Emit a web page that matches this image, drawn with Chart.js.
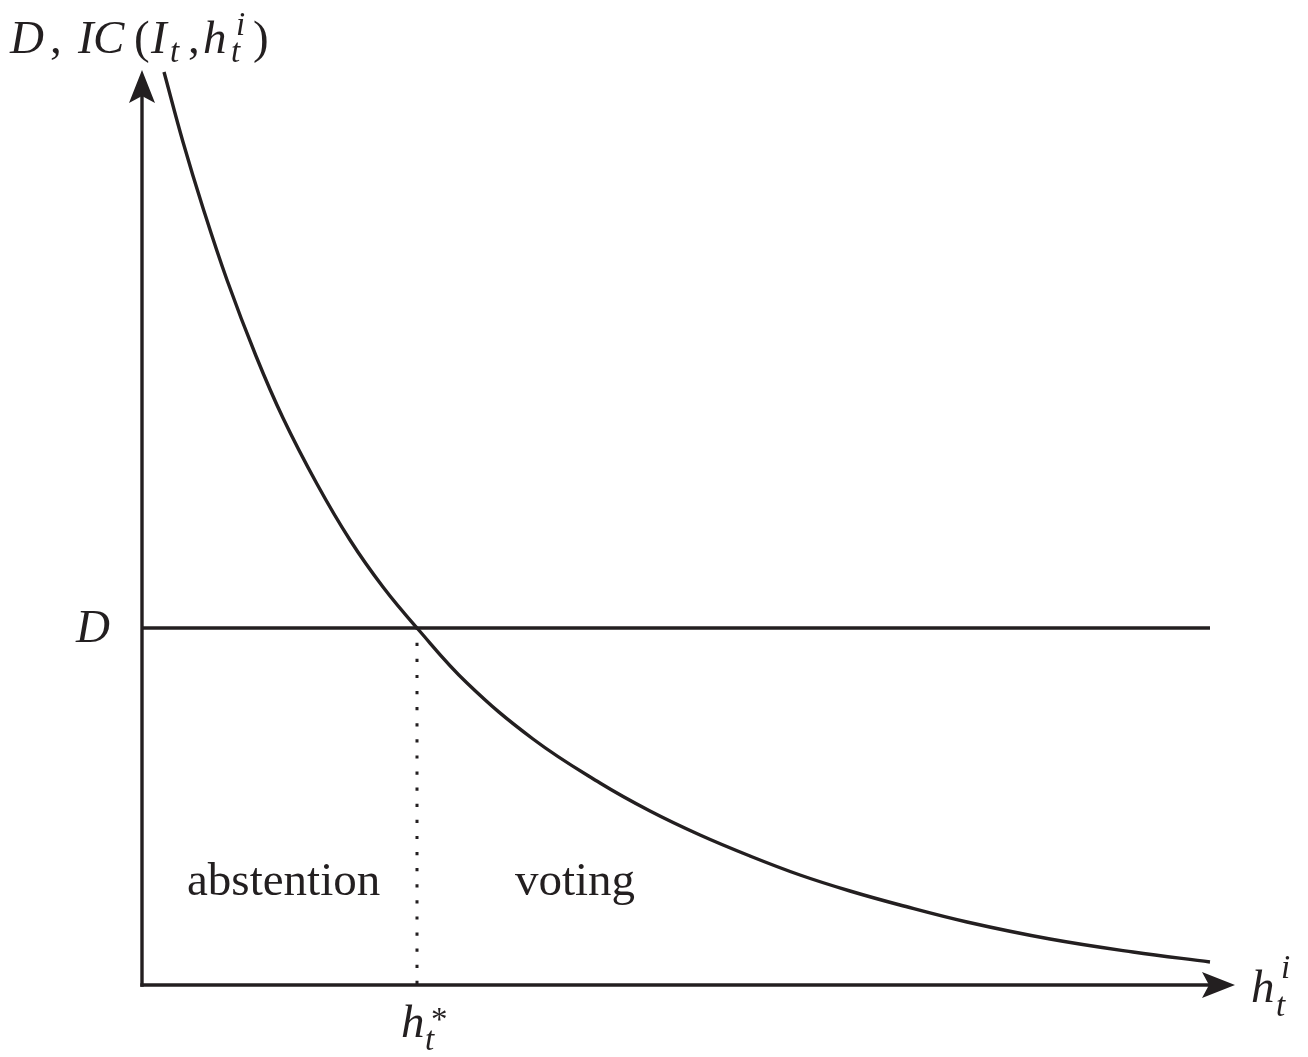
<!DOCTYPE html>
<html>
<head>
<meta charset="utf-8">
<title>Incentive cost and voting threshold</title>
<script src="https://cdn.jsdelivr.net/npm/chart.js@4/dist/chart.umd.min.js"></script>
<style>
    html, body { margin: 0; padding: 0; background: #fff; }
    #wrap { width: 1308px; height: 1057px; }
</style>
</head>
<body>
<div id="wrap"><canvas id="icChart" width="1308" height="1057"></canvas></div>
<script>
/* ---------- data ---------- */

// IC(I_t, h) curve, read along the decreasing branch
const curveX = [0.22, 0.41, 0.61, 0.85, 1.14, 1.41, 1.75, 2.08, 2.41, 2.75, 3.25, 3.91, 4.58, 5.08, 5.58, 6.08, 6.58, 7.08, 7.58, 8.25, 9.08, 9.91, 10.68];
const curveY = [9.13, 8.43, 7.77, 7.05, 6.29, 5.67, 5.01, 4.45, 3.98, 3.57, 3.02, 2.46, 2.02, 1.74, 1.50, 1.29, 1.10, 0.94, 0.80, 0.63, 0.46, 0.33, 0.23];

// level of D and the threshold h*
const dLevel = 3.57;
const hStar = 2.75;

// axis extents (arrow tips) and where the D line stops
const xMax = 10.93;
const yMax = 9.15;
const dLineEnd = 10.68;

const INK = '#231f20';
const SERIF = '"Liberation Serif", "DejaVu Serif", serif';

/* ---------- helpers ---------- */

function font(size, italic) {
    return (italic ? 'italic ' : '') + size + 'px ' + SERIF;
}

// draw a list of text pieces: [text, x, y, size, italic]
function drawPieces(ctx, pieces) {
    ctx.fillStyle = INK;
    ctx.textAlign = 'left';
    ctx.textBaseline = 'alphabetic';
    pieces.forEach(p => {
        ctx.font = font(p[3], p[4]);
        ctx.fillText(p[0], p[1], p[2]);
    });
}

function arrowHead(ctx, tipX, tipY, dir) {
    // stealth-style head, dir = 'up' | 'right'
    ctx.save();
    ctx.translate(tipX, tipY);
    if (dir === 'right') ctx.rotate(Math.PI / 2);
    ctx.beginPath();
    ctx.moveTo(0, 0);
    ctx.lineTo(-13, 33);
    ctx.lineTo(0, 26);
    ctx.lineTo(13, 33);
    ctx.closePath();
    ctx.fillStyle = INK;
    ctx.fill();
    ctx.restore();
}

/* ---------- axes + labels plugin ---------- */

const axesPlugin = {
    id: 'axesPlugin',
    afterDatasetsDraw(chart) {
        const ctx = chart.ctx;
        const xs = chart.scales.x;
        const ys = chart.scales.y;

        const x0 = xs.getPixelForValue(0);
        const y0 = ys.getPixelForValue(0);
        const xTip = xs.getPixelForValue(xMax);
        const yTip = ys.getPixelForValue(yMax);

        ctx.save();
        ctx.strokeStyle = INK;
        ctx.lineWidth = 3.4;
        ctx.lineCap = 'butt';

        ctx.beginPath();
        ctx.moveTo(x0, y0 + 1.7);
        ctx.lineTo(x0, yTip + 20);
        ctx.stroke();

        ctx.beginPath();
        ctx.moveTo(x0 - 1.7, y0);
        ctx.lineTo(xTip - 20, y0);
        ctx.stroke();

        arrowHead(ctx, x0, yTip, 'up');
        arrowHead(ctx, xTip, y0, 'right');

        // axis title: D, IC(I_t, h^i_t)
        drawPieces(ctx, [
            ['D', 10, 53, 47, true],
            [',', 50, 53, 47, false],
            ['I', 78, 53, 47, true],
            ['C', 93, 53, 47, true],
            ['(', 134, 53, 47, false],
            ['I', 151, 53, 47, true],
            ['t', 170, 62, 33, true],
            [',', 188, 53, 47, false],
            ['h', 203, 53, 47, true],
            ['i', 236, 35, 33, true],
            ['t', 231, 62, 33, true],
            [')', 253, 53, 47, false]
        ]);

        // D on the vertical axis
        const dy = ys.getPixelForValue(dLevel);
        drawPieces(ctx, [['D', x0 - 66, dy + 14, 47, true]]);

        // h*_t under the horizontal axis
        const hx = xs.getPixelForValue(hStar);
        drawPieces(ctx, [
            ['h', hx - 16, y0 + 52, 47, true],
            ['*', hx + 14, y0 + 45, 33, false],
            ['t', hx + 8, y0 + 65, 33, true]
        ]);

        // h^i_t at the end of the horizontal axis
        drawPieces(ctx, [
            ['h', xTip + 16, y0 + 17, 47, true],
            ['i', xTip + 46, y0 - 7, 33, true],
            ['t', xTip + 41, y0 + 31, 33, true]
        ]);

        // regions
        ctx.font = font(47, false);
        ctx.fillText('abstention', 187, 895);
        ctx.fillText('voting', 515, 895);

        ctx.restore();
    }
};

/* ---------- chart ---------- */

const curvePoints = curveX.map((x, i) => ({ x: x, y: curveY[i] }));

new Chart(document.getElementById('icChart'), {
    type: 'scatter',
    data: {
        datasets: [
            {
                label: 'IC',
                data: curvePoints,
                showLine: true,
                borderColor: INK,
                borderWidth: 3.4,
                pointRadius: 0,
                tension: 0.4,
                clip: false
            },
            {
                label: 'D',
                data: [{ x: 0, y: dLevel }, { x: dLineEnd, y: dLevel }],
                showLine: true,
                borderColor: INK,
                borderWidth: 3.4,
                pointRadius: 0
            },
            {
                label: 'threshold',
                data: [{ x: hStar, y: dLevel }, { x: hStar, y: 0 }],
                showLine: true,
                borderColor: INK,
                borderWidth: 3,
                borderDash: [3.2, 12.9],
                borderDashOffset: 1.4,
                pointRadius: 0
            }
        ]
    },
    options: {
        responsive: false,
        animation: false,
        layout: { padding: { left: 142, right: 73, top: 70, bottom: 72 } },
        plugins: {
            legend: { display: false },
            tooltip: { enabled: false }
        },
        scales: {
            x: {
                type: 'linear',
                min: 0,
                max: xMax,
                display: false
            },
            y: {
                type: 'linear',
                min: 0,
                max: yMax,
                display: false
            }
        }
    },
    plugins: [axesPlugin]
});
</script>
</body>
</html>
